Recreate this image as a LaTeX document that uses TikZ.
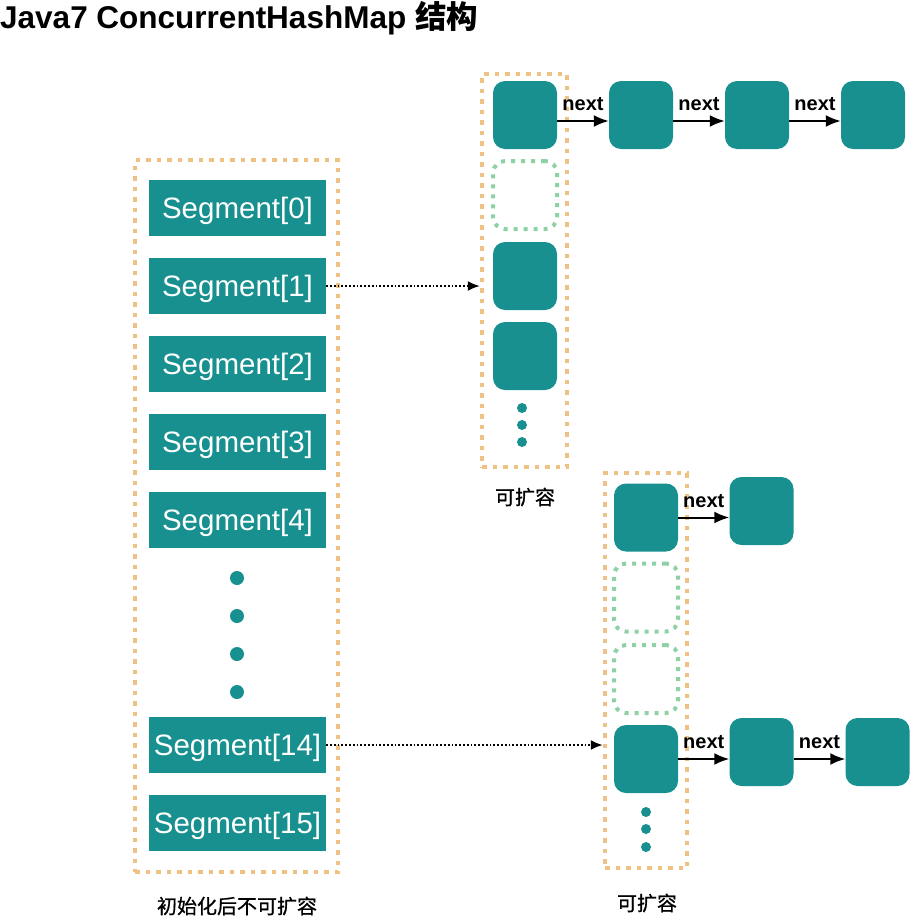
\documentclass[tikz,border=0pt]{standalone}
\usepackage{fontspec}
\setmainfont{Liberation Sans}
\newfontfamily\cjk{Noto Sans CJK SC}
\newfontfamily\cjklbl[FakeBold=0.8]{Noto Sans CJK SC}
\usetikzlibrary{arrows.meta}
\definecolor{cellteal}{RGB}{23,144,143}
\definecolor{frameorange}{RGB}{239,194,131}
\definecolor{ghostgreen}{RGB}{142,209,165}

\begin{document}
\begin{tikzpicture}[x=1pt,y=-1pt,
  seg/.style={fill=cellteal,text=white,minimum width=177pt,minimum height=56pt,inner sep=0pt,text depth=0pt,font=\fontsize{29.5}{32}\selectfont},
  cell/.style={fill=cellteal,rounded corners=12pt,minimum width=64pt,minimum height=68pt,inner sep=0pt},
  ghost/.style={draw=ghostgreen,line width=4pt,dash pattern=on 4pt off 6pt,rounded corners=12pt,minimum width=64pt,minimum height=68pt,inner sep=0pt},
  orangeframe/.style={draw=frameorange,line width=4.5pt,dash pattern=on 4.5pt off 6pt,inner sep=0pt},
  bigdot/.style={circle,fill=cellteal,inner sep=0pt,minimum size=14pt},
  smalldot/.style={circle,fill=cellteal,inner sep=0pt,minimum size=10pt},
  nextarrow/.style={-{Latex[length=15pt,width=12pt]},line width=2pt},
  ptr/.style={-{Latex[length=12pt,width=10pt]},line width=1.8pt,dotted},
  lbl/.style={font=\cjklbl\fontsize{20}{22}\selectfont},
  nxt/.style={font=\bfseries\fontsize{20}{22}\selectfont,above=9pt,inner sep=0pt}]
\useasboundingbox (0,0) rectangle (911,916);
\node[anchor=base west,inner sep=0pt,font=\bfseries\fontsize{31.5}{34}\selectfont] (title) at (0,28) {Java7 ConcurrentHashMap {\cjk 结构}};

% segment array
\node[orangeframe,minimum width=203pt,minimum height=712pt] (segframe) at (236.5,516) {};
\foreach \i in {0,...,4}
  \node[seg] (seg\i) at (237.5,{208+78*\i}) {Segment[\i]};
\foreach \y [count=\k] in {578,616,654,692}
  \node[bigdot] (segdot\k) at (237,\y) {};
\node[seg] (seg14) at (237.5,745) {Segment[14]};
\node[seg] (seg15) at (237.5,823) {Segment[15]};
\node[lbl] (fixedlbl) at (237,906) {初始化后不可扩容};

% table of segment 1
\node[orangeframe,minimum width=85pt,minimum height=393pt] (upframe) at (524.5,270.5) {};
\node[cell] (ua) at (525,115) {};
\node[ghost] (ub) at (525,195) {};
\node[cell] (uc) at (525,276) {};
\node[cell] (ud) at (525,356) {};
\foreach \y [count=\k] in {408,425,442}
  \node[smalldot] (updot\k) at (522,\y) {};
\node[lbl] (uplbl) at (525,497) {可扩容};
\node[cell] (ue) at (641,115) {};
\node[cell] (uf) at (757,115) {};
\node[cell] (ug) at (873,115) {};
\draw[nextarrow] ([yshift=-6pt]ua.east) -- ([yshift=-6pt]ue.west) node[nxt,midway] {next};
\draw[nextarrow] ([yshift=-6pt]ue.east) -- ([yshift=-6pt]uf.west) node[nxt,midway] {next};
\draw[nextarrow] ([yshift=-6pt]uf.east) -- ([yshift=-6pt]ug.west) node[nxt,midway] {next};

% table of segment 14
\node[orangeframe,minimum width=82pt,minimum height=395pt] (lowframe) at (646,670.5) {};
\node[cell] (la) at (646,517.5) {};
\node[ghost] (lb) at (646,597.5) {};
\node[ghost] (lc) at (646,679) {};
\node[cell] (ld) at (646,759) {};
\foreach \y [count=\k] in {812,829,847}
  \node[smalldot] (lowdot\k) at (646,\y) {};
\node[lbl] (lowlbl) at (647,903) {可扩容};
\node[cell] (le) at (761.5,511) {};
\node[cell] (lf) at (761.5,752) {};
\node[cell] (lg) at (877.5,752) {};
\draw[nextarrow] (la.east) -- (la.east -| le.west) node[nxt,midway] {next};
\draw[nextarrow] (ld.east) -- (ld.east -| lf.west) node[nxt,midway] {next};
\draw[nextarrow] (ld.east -| lf.east) -- (ld.east -| lg.west) node[nxt,midway] {next};

% segment -> table
\draw[ptr] (seg1.east) -- (seg1.east -| upframe.west);
\draw[ptr] (seg14.east) -- (seg14.east -| lowframe.west);
\end{tikzpicture}
\end{document}
